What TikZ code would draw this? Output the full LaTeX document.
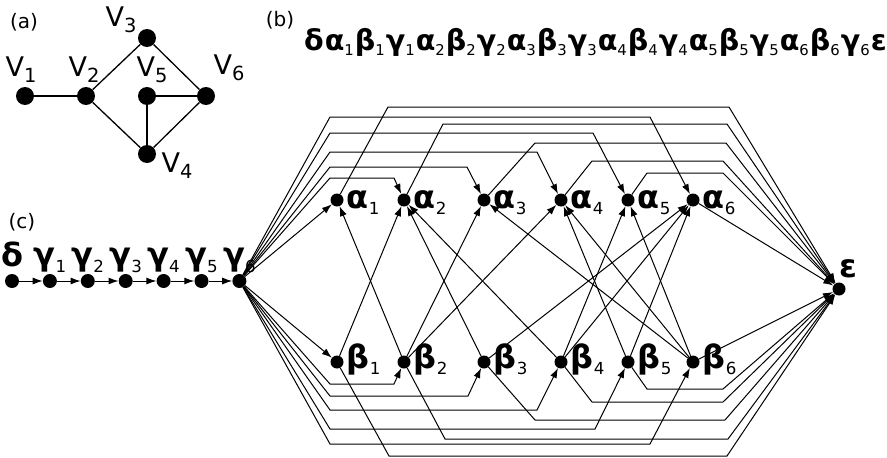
\documentclass[tikz,border=0pt]{standalone}
\usepackage{fontspec}
\setmainfont{DejaVu Sans}
\usetikzlibrary{arrows.meta,positioning}
\tikzset{
    dot/.style={circle, fill=black, inner sep=0pt, minimum size=13pt},
    vdot/.style={circle, fill=black, inner sep=0pt, minimum size=18pt},
    link/.style={draw, line width=1pt, -{Latex[length=10pt,width=7pt]}},
    uedge/.style={draw, line width=1.3pt},
    glab/.style={font=\fontsize{32}{32}\selectfont, inner sep=0pt},
    hlab/.style={font=\fontsize{28.6}{28.6}\selectfont, inner sep=0pt},
    vlab/.style={font=\fontsize{27}{27}\selectfont, inner sep=0pt},
    tag/.style={font=\fontsize{20}{20}\selectfont, inner sep=0pt},
}
\newcommand{\gsub}[2]{{\bfseries #1}\raisebox{-.2em}{\scalebox{.52}{#2}}}
\newcommand{\vsub}[1]{V\raisebox{-.22em}{\scalebox{.72}{#1}}}

\begin{document}
\begin{tikzpicture}[x=1pt, y=-1pt, node distance=23.5pt]
        \useasboundingbox (0,0) rectangle (887,458);

        % Panel tags
        \node [tag] (taga) at (24,22)  {(a)};
        \node [tag] (tagb) at (280,20) {(b)};
        \node [tag] (tagc) at (22,222) {(c)};

        % (a) the graph
        \node [vdot] (v1) at (25,96)  {};
        \node [vdot] (v2) at (86,96)  {};
        \node [vdot] (v3) at (147,38) {};
        \node [vdot] (v5) at (147,96) {};
        \node [vdot] (v6) at (206,96) {};
        \node [vdot] (v4) at (147,154) {};
        \node [vlab] (lv1) at (21,70)  {\vsub{1}};
        \node [vlab] (lv2) at (84,70)  {\vsub{2}};
        \node [vlab] (lv3) at (121,20) {\vsub{3}};
        \node [vlab] (lv5) at (152,70) {\vsub{5}};
        \node [vlab] (lv6) at (229,68) {\vsub{6}};
        \node [vlab] (lv4) at (177,166) {\vsub{4}};
        \draw [uedge] (v1) -- (v2);
        \draw [uedge] (v2) -- (v3);
        \draw [uedge] (v2) -- (v4);
        \draw [uedge] (v3) -- (v6);
        \draw [uedge] (v5) -- (v6);
        \draw [uedge] (v5) -- (v4);
        \draw [uedge] (v4) -- (v6);

        % (b) the ordering
        \node [hlab, anchor=base west] (order) at (304,50)
            {\gsub{δ}{}\hspace{1pt}\gsub{α}{1}\hspace{1pt}\gsub{β}{1}\hspace{1pt}\gsub{γ}{1}\hspace{1pt}\gsub{α}{2}\hspace{1pt}\gsub{β}{2}\hspace{1pt}\gsub{γ}{2}\hspace{1pt}\gsub{α}{3}\hspace{1pt}\gsub{β}{3}\hspace{1pt}\gsub{γ}{3}\hspace{1pt}\gsub{α}{4}\hspace{1pt}\gsub{β}{4}\hspace{1pt}\gsub{γ}{4}\hspace{1pt}\gsub{α}{5}\hspace{1pt}\gsub{β}{5}\hspace{1pt}\gsub{γ}{5}\hspace{1pt}\gsub{α}{6}\hspace{1pt}\gsub{β}{6}\hspace{1pt}\gsub{γ}{6}\hspace{1pt}\gsub{ε}{}};

        % (c) the chain
        \node [dot, minimum size=14pt] (d0) at (12,281) {};
        \node [dot, minimum size=14pt, right=of d0] (c1) {};
        \node [dot, minimum size=14pt, right=of c1] (c2) {};
        \node [dot, minimum size=14pt, right=of c2] (c3) {};
        \node [dot, minimum size=14pt, right=of c3] (c4) {};
        \node [dot, minimum size=14pt, right=of c4] (c5) {};
        \node [dot, minimum size=14pt, right=of c5] (g6) {};
        \node [glab, above=1pt of d0] (ld0) {\gsub{δ}{}};
        \node [glab, above=1pt of c1] (lc1) {\gsub{γ}{1}};
        \node [glab, above=1pt of c2] (lc2) {\gsub{γ}{2}};
        \node [glab, above=1pt of c3] (lc3) {\gsub{γ}{3}};
        \node [glab, above=1pt of c4] (lc4) {\gsub{γ}{4}};
        \node [glab, above=1pt of c5] (lc5) {\gsub{γ}{5}};
        \node [glab, above=1pt of g6] (lg6) {\gsub{γ}{6}};
        \draw [link] (d0) -- (c1);
        \draw [link] (c1) -- (c2);
        \draw [link] (c2) -- (c3);
        \draw [link] (c3) -- (c4);
        \draw [link] (c4) -- (c5);
        \draw [link] (c5) -- (g6);

        % alpha and beta rows
        \node [dot] (a1) at (337,200) {};
        \node [dot] (a2) at (404,200) {};
        \node [dot] (a3) at (484,200) {};
        \node [dot] (a4) at (561,200) {};
        \node [dot] (a5) at (628,200) {};
        \node [dot] (a6) at (693,200) {};
        \node [dot] (b1) at (337,362) {};
        \node [dot] (b2) at (404,362) {};
        \node [dot] (b3) at (484,362) {};
        \node [dot] (b4) at (561,362) {};
        \node [dot] (b5) at (628,362) {};
        \node [dot] (b6) at (693,362) {};
        \node [dot] (eps) at (839,289) {};
        \node [glab, anchor=base west] (la1) at ([xshift=3pt,yshift=-8pt]a1.east) {\gsub{α}{1}};
        \node [glab, anchor=base west] (la2) at ([xshift=3pt,yshift=-8pt]a2.east) {\gsub{α}{2}};
        \node [glab, anchor=base west] (la3) at ([xshift=3pt,yshift=-8pt]a3.east) {\gsub{α}{3}};
        \node [glab, anchor=base west] (la4) at ([xshift=3pt,yshift=-8pt]a4.east) {\gsub{α}{4}};
        \node [glab, anchor=base west] (la5) at ([xshift=3pt,yshift=-8pt]a5.east) {\gsub{α}{5}};
        \node [glab, anchor=base west] (la6) at ([xshift=3pt,yshift=-8pt]a6.east) {\gsub{α}{6}};
        \node [glab, anchor=base west] (lb1) at ([xshift=3pt,yshift=-6pt]b1.east) {\gsub{β}{1}};
        \node [glab, anchor=base west] (lb2) at ([xshift=3pt,yshift=-6pt]b2.east) {\gsub{β}{2}};
        \node [glab, anchor=base west] (lb3) at ([xshift=3pt,yshift=-6pt]b3.east) {\gsub{β}{3}};
        \node [glab, anchor=base west] (lb4) at ([xshift=3pt,yshift=-6pt]b4.east) {\gsub{β}{4}};
        \node [glab, anchor=base west] (lb5) at ([xshift=3pt,yshift=-6pt]b5.east) {\gsub{β}{5}};
        \node [glab, anchor=base west] (lb6) at ([xshift=3pt,yshift=-6pt]b6.east) {\gsub{β}{6}};
        \node [glab, anchor=base west] (leps) at ([yshift=5pt]eps.north) {\gsub{ε}{}};

        % gamma6 to the alphas
        \draw [link] (g6) -- (a1);
        \draw [link] (g6) -- (330,178) -- (394,178) -- (a2);
        \draw [link] (g6) -- (330,167) -- (467,167) -- (a3);
        \draw [link] (g6) -- (330,152) -- (537,152) -- (a4);
        \draw [link] (g6) -- (330,133) -- (593,133) -- (a5);
        \draw [link] (g6) -- (330,117) -- (650,117) -- (a6);

        % gamma6 to the betas
        \draw [link] (g6) -- (b1);
        \draw [link] (g6) -- (330,384) -- (394,384) -- (b2);
        \draw [link] (g6) -- (330,396) -- (468,396) -- (b3);
        \draw [link] (g6) -- (330,410) -- (537,410) -- (b4);
        \draw [link] (g6) -- (330,429) -- (595,429) -- (b5);
        \draw [link] (g6) -- (330,444) -- (650,444) -- (b6);

        % alphas to epsilon
        \draw [link] (a1) -- (388,107) -- (729,107) -- (eps);
        \draw [link] (a2) -- (443,124) -- (727,124) -- (eps);
        \draw [link] (a3) -- (535,143) -- (726,143) -- (eps);
        \draw [link] (a4) -- (592,161) -- (723,161) -- (eps);
        \draw [link] (a5) -- (647,173) -- (723,173) -- (eps);
        \draw [link] (a6) -- (eps);

        % betas to epsilon
        \draw [link] (b1) -- (389,456) -- (727,456) -- (eps);
        \draw [link] (b2) -- (445,439) -- (728,439) -- (eps);
        \draw [link] (b3) -- (535,420) -- (725,420) -- (eps);
        \draw [link] (b4) -- (592,402) -- (723,402) -- (eps);
        \draw [link] (b5) -- (647,389) -- (723,389) -- (eps);
        \draw [link] (b6) -- (eps);

        % one pair of crossing arcs per edge of (a)
        \draw [link] (b1) -- (a2);
        \draw [link] (b2) -- (a1);
        \draw [link] (b2) -- (a3);
        \draw [link] (b3) -- (a2);
        \draw [link] (b2) -- (a4);
        \draw [link] (b4) -- (a2);
        \draw [link] (b3) -- (a6);
        \draw [link] (b6) -- (a3);
        \draw [link] (b4) -- (a5);
        \draw [link] (b5) -- (a4);
        \draw [link] (b4) -- (a6);
        \draw [link] (b6) -- (a4);
        \draw [link] (b5) -- (a6);
        \draw [link] (b6) -- (a5);
    \end{tikzpicture}
\end{document}
